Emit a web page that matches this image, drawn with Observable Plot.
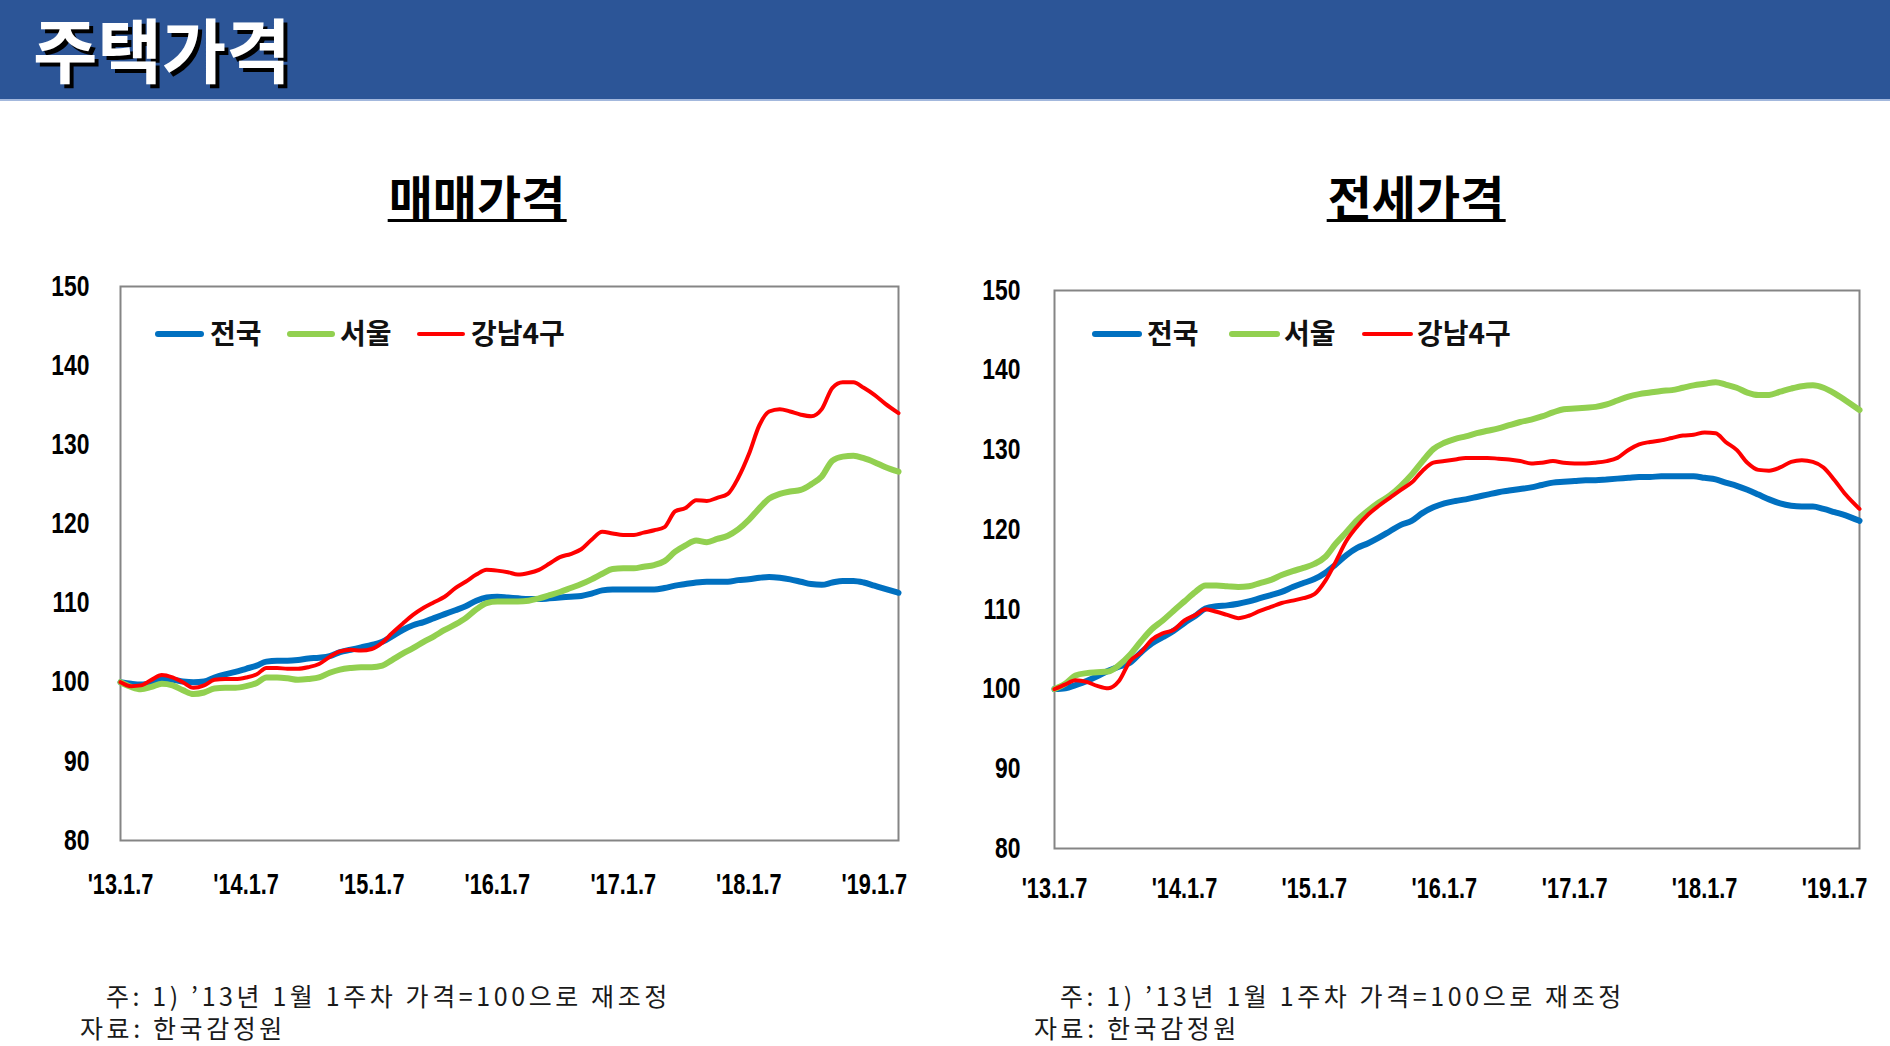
<!DOCTYPE html>
<html><head><meta charset="utf-8">
<script src="https://cdn.jsdelivr.net/npm/d3@7"></script>
<script src="https://cdn.jsdelivr.net/npm/@observablehq/plot@0.6"></script>
<style>
html,body{margin:0;padding:0;background:#fff;}
body{width:1890px;height:1046px;position:relative;overflow:hidden;font-family:"Noto Sans CJK KR","Noto Sans",sans-serif;}
#header{position:absolute;left:0;top:0;width:1890px;height:99px;background:#2C5597;border-bottom:2px solid #A3B8DD;}
#title{position:absolute;left:33px;top:13px;font-size:70px;font-weight:700;color:#fff;text-shadow:4px 4px 0 #000;line-height:70px;white-space:nowrap;}
.sub{position:absolute;font-size:48px;font-weight:700;color:#000;line-height:48px;border-bottom:3px solid #000;padding:0 1px 0 1px;white-space:nowrap;transform:translateX(-50%);}
.sw{position:absolute;border-radius:3px;}
.lt{position:absolute;font-size:28px;font-weight:700;line-height:28px;color:#111;white-space:nowrap;}
.note{position:absolute;font-size:25px;line-height:32px;letter-spacing:3.6px;color:#1a1a1a;white-space:pre;text-indent:26px;}
.chart{position:absolute;}
</style>
</head><body>
<div id="header"></div>
<div id="title">주택가격</div>
<div class="sub" style="left:477px;top:171px;">매매가격</div>
<div class="sub" style="left:1416px;top:171px;">전세가격</div>
<div id="chart1" class="chart" style="left:0;top:250px;"></div>
<div id="chart2" class="chart" style="left:940px;top:254px;"></div>
<div id="legends"></div>
<div class="note" style="left:80px;top:979px;">주: 1) ’13년 1월 1주차 가격=100으로 재조정<br>자료: 한국감정원</div>
<div class="note" style="left:1034px;top:979px;">주: 1) ’13년 1월 1주차 가격=100으로 재조정<br>자료: 한국감정원</div>
<script>
// ---- data (monthly readings, 2013-01-07 .. 2019-03-18) ----
const seriesNames = ["전국", "서울", "강남4구"];
const seriesColors = ["#0070C0", "#92D050", "#FF0000"];
const tickLabels = ["'13.1.7", "'14.1.7", "'15.1.7", "'16.1.7", "'17.1.7", "'18.1.7", "'19.1.7"];
const yTicks = [80, 90, 100, 110, 120, 130, 140, 150];

// 매매가격 (sale price index)
const saleNational = [100.0,99.8,99.7,99.9,100.3,100.3,100.1,100.0,100.1,100.6,101.0,101.3,101.7,102.1,102.6,102.7,102.7,102.8,103.0,103.1,103.3,103.8,104.1,104.4,104.7,105.1,105.8,106.6,107.2,107.6,108.1,108.6,109.1,109.6,110.3,110.7,110.8,110.7,110.6,110.5,110.5,110.6,110.7,110.8,110.9,111.2,111.6,111.7,111.7,111.7,111.7,111.7,111.9,112.2,112.4,112.6,112.7,112.7,112.7,112.9,113.0,113.2,113.3,113.2,113.0,112.7,112.4,112.3,112.6,112.8,112.8,112.6,112.2,111.8,111.3];
const saleSeoul = [100.0,99.4,99.1,99.4,99.8,99.6,99.0,98.5,98.7,99.2,99.3,99.3,99.5,99.9,100.6,100.6,100.5,100.3,100.4,100.6,101.2,101.6,101.8,101.9,101.9,102.1,102.8,103.6,104.3,105.1,105.8,106.6,107.3,108.1,109.2,110.0,110.2,110.2,110.2,110.3,110.6,111.0,111.4,111.9,112.4,113.0,113.7,114.3,114.4,114.4,114.6,114.8,115.3,116.5,117.3,117.9,117.7,118.1,118.5,119.3,120.5,122.0,123.2,123.8,124.1,124.3,125.0,126.0,128.0,128.5,128.6,128.3,127.8,127.2,126.6];
const saleGangnam = [100.0,99.5,99.6,100.3,100.9,100.6,100.0,99.3,99.6,100.3,100.4,100.4,100.6,101.0,101.8,101.8,101.7,101.7,101.9,102.3,103.2,103.9,104.1,104.0,104.2,105.0,106.2,107.4,108.5,109.4,110.1,110.8,111.9,112.7,113.6,114.2,114.1,113.9,113.6,113.8,114.2,115.0,115.8,116.2,116.8,118.0,119.0,118.8,118.6,118.6,118.9,119.2,119.6,121.6,122.0,123.0,122.9,123.3,123.8,125.8,128.8,132.5,134.2,134.5,134.2,133.8,133.6,134.5,137.2,137.9,137.9,137.2,136.3,135.2,134.0];

// 전세가격 (jeonse price index)
const jeonseNational = [100.0,100.1,100.5,101.0,101.6,102.3,102.8,103.3,104.6,105.7,106.5,107.3,108.3,109.2,110.1,110.4,110.5,110.7,111.0,111.4,111.8,112.2,112.8,113.3,113.8,114.6,115.6,116.8,117.7,118.3,119.0,119.8,120.6,121.1,122.1,122.8,123.3,123.6,123.8,124.1,124.4,124.7,124.9,125.1,125.3,125.6,125.9,126.0,126.1,126.2,126.2,126.3,126.4,126.5,126.6,126.6,126.7,126.7,126.7,126.7,126.5,126.3,125.9,125.5,125.0,124.4,123.8,123.3,123.0,122.9,122.9,122.6,122.2,121.8,121.1];
const jeonseSeoul = [100.0,100.7,101.7,102.0,102.1,102.2,103.0,104.3,106.0,107.5,108.6,109.8,111.0,112.2,113.0,113.0,112.9,112.8,112.9,113.3,113.7,114.3,114.8,115.2,115.7,116.6,118.2,119.7,121.2,122.4,123.4,124.3,125.5,126.9,128.6,130.1,130.9,131.4,131.7,132.1,132.4,132.7,133.1,133.5,133.8,134.2,134.7,135.1,135.2,135.3,135.4,135.7,136.2,136.7,137.0,137.2,137.4,137.5,137.8,138.1,138.3,138.5,138.2,137.8,137.2,136.9,136.9,137.3,137.7,138.0,138.1,137.8,137.1,136.2,135.0];
const jeonseGangnam = [100.0,100.6,101.1,100.9,100.4,100.1,101.0,103.5,104.6,106.2,107.0,107.4,108.6,109.3,110.0,109.7,109.3,108.9,109.2,109.8,110.3,110.8,111.1,111.4,111.9,113.6,115.9,118.6,120.4,121.9,123.0,124.0,125.0,125.9,127.4,128.4,128.6,128.8,129.0,129.0,129.0,128.9,128.8,128.6,128.3,128.4,128.6,128.4,128.3,128.3,128.4,128.6,129.0,130.0,130.7,131.0,131.2,131.5,131.8,131.9,132.2,132.1,131.0,130.0,128.4,127.5,127.4,127.8,128.5,128.7,128.5,127.8,126.2,124.4,122.6];

// sampling dates: monthly from 2013-01-07, last reading at 2019-03-18
const startDate = new Date(Date.UTC(2013, 0, 7));
const endDate = new Date(Date.UTC(2019, 2, 18));
const dates = saleNational.map((_, i) => i === saleNational.length - 1 ? endDate : d3.utcMonth.offset(startDate, i));
const tickDates = tickLabels.map((_, i) => new Date(Date.UTC(2013 + i, 0, 7)));

const widths = [6, 6, 4];

function makeChart(valueSets, cfg) {
  const marks = [Plot.frame({stroke: "#858585", strokeWidth: 2})];
  valueSets.forEach((vals, k) => {
    const rows = vals.map((v, i) => ({date: dates[i], value: v, name: seriesNames[k]}));
    marks.push(Plot.line(rows, {x: "date", y: "value", stroke: seriesColors[k], strokeWidth: widths[k], curve: "monotone-x"}));
  });
  return Plot.plot({
    width: cfg.width, height: cfg.height,
    marginLeft: cfg.ml, marginRight: cfg.mr, marginTop: cfg.mt, marginBottom: cfg.mb,
    style: {fontFamily: '"Liberation Sans Narrow","Liberation Sans",Arial,sans-serif', fontSize: "29px", fontWeight: "bold", color: "#000", background: "transparent", overflow: "visible"},
    x: {type: "utc", domain: [startDate, endDate], ticks: tickDates, tickFormat: (d) => tickLabels[tickDates.findIndex(t => +t === +d)], tickSize: 0, tickPadding: cfg.xp, label: null},
    y: {domain: [80, 150], ticks: yTicks, tickSize: 0, tickPadding: cfg.yp, label: null},
    marks
  });
}

// condense tick labels horizontally (reference uses a narrow bold face)
function condense(svg) {
  const squeeze = (sel, f) => svg.querySelectorAll(sel).forEach(t => {
    const L = t.getComputedTextLength();
    t.setAttribute("textLength", (L * f).toFixed(1));
    t.setAttribute("lengthAdjust", "spacingAndGlyphs");
  });
  squeeze('g[aria-label="y-axis tick label"] text', 0.79);
  squeeze('g[aria-label="x-axis tick label"] text', 0.75);
}

const c1 = makeChart([saleNational, saleSeoul, saleGangnam], {width: 940, height: 660, ml: 120, mr: 42, mt: 36, mb: 70, yp: 31, xp: 33});
document.getElementById("chart1").appendChild(c1);
condense(c1);
const c2 = makeChart([jeonseNational, jeonseSeoul, jeonseGangnam], {width: 949, height: 664, ml: 114, mr: 30, mt: 36, mb: 70, yp: 34, xp: 29});
document.getElementById("chart2").appendChild(c2);
condense(c2);

// legends (HTML overlay)
const legendSpecs = [
  {y: 334, items: [[155, 204, 210], [287, 335, 340], [417, 465, 471]]},
  {y: 334, items: [[1092, 1142, 1147], [1229, 1280, 1284], [1362, 1413, 1417]]}
];
const lg = document.getElementById("legends");
legendSpecs.forEach(spec => {
  spec.items.forEach((it, k) => {
    const sw = document.createElement("div");
    sw.className = "sw";
    const h = widths[k];
    sw.style.cssText = `left:${it[0]}px;top:${spec.y - h / 2}px;width:${it[1] - it[0]}px;height:${h}px;background:${seriesColors[k]};`;
    lg.appendChild(sw);
    const t = document.createElement("div");
    t.className = "lt";
    t.textContent = seriesNames[k];
    t.style.cssText = `left:${it[2]}px;top:${spec.y - 16}px;`;
    lg.appendChild(t);
  });
});
</script>
</body></html>
